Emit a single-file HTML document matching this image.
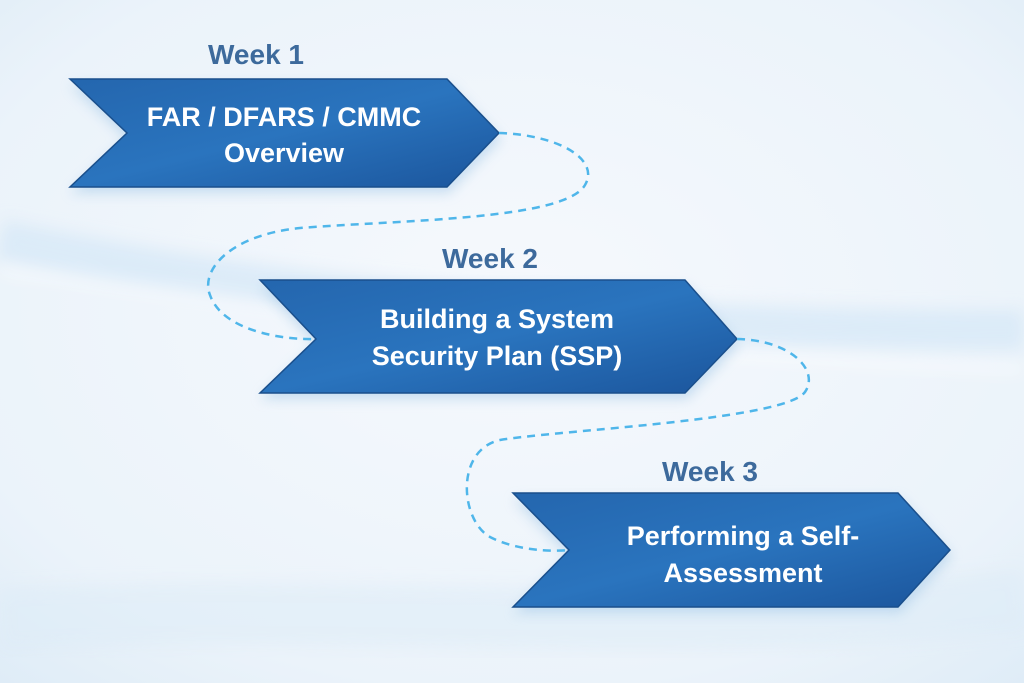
<!DOCTYPE html>
<html><head><style>
body{margin:0;width:1024px;height:683px;overflow:hidden;font-family:"Liberation Sans",sans-serif;}
</style></head><body>
<svg width="1024" height="683" viewBox="0 0 1024 683" xmlns="http://www.w3.org/2000/svg">
<defs>
<radialGradient id="bg" cx="0.5" cy="0.45" r="0.8">
<stop offset="0" stop-color="#f6f9fd"/><stop offset="0.7" stop-color="#ebf3fa"/><stop offset="1" stop-color="#dbeaf6"/>
</radialGradient>
<linearGradient id="ar" x1="0" y1="0" x2="1" y2="1">
<stop offset="0" stop-color="#2466ae"/><stop offset="0.5" stop-color="#2a74be"/><stop offset="1" stop-color="#1b559c"/>
</linearGradient>
<filter id="sh" x="-20%" y="-30%" width="140%" height="160%"><feGaussianBlur stdDeviation="6"/></filter>
<filter id="bl"><feGaussianBlur stdDeviation="8"/></filter>
</defs>
<rect width="1024" height="683" fill="url(#bg)"/>
<g filter="url(#bl)" fill="none">
<path d="M0 240 C200 280 500 330 1024 330" stroke="#d4e7f6" stroke-width="40" opacity="0.7"/>
<path d="M0 270 C250 300 500 350 1024 370" stroke="#ffffff" stroke-width="6" opacity="0.8"/>
<path d="M0 620 C300 600 700 640 1024 600" stroke="#dcebf7" stroke-width="60" opacity="0.5"/>
</g>
<g fill="#9cc4e6" opacity="0.5" filter="url(#sh)">
<polygon points="70,85 449,85 501,139 449,193 70,193 127,139"/>
<polygon points="260,286 687,286 739,345 687,399 260,399 316,345"/>
<polygon points="513,499 900,499 952,556 900,613 513,613 569,556"/>
</g>
<g fill="url(#ar)" stroke="#1a4f8c" stroke-width="1.5">
<polygon points="70,79 447,79 499,133 447,187 70,187 127,133"/>
<polygon points="260,280 685,280 737,339 685,393 260,393 316,339"/>
<polygon points="513,493 898,493 950,550 898,607 513,607 569,550"/>
</g>
<g stroke="#4fb6ea" stroke-width="2.5" stroke-dasharray="8 6" fill="none">
<path d="M499,133 C560,135 600,160 585,185 C565,220 400,220 300,228 C230,235 200,270 210,295 C222,330 280,340 316,339"/>
<path d="M737,339 C790,340 820,370 805,392 C785,420 560,430 500,440 C455,450 460,520 490,537 C515,550 550,552 569,550"/>
</g>
<g font-weight="bold" font-size="28" fill="#3d6a9c" text-anchor="middle">
<text x="256" y="64">Week 1</text>
<text x="490" y="268">Week 2</text>
<text x="710" y="481">Week 3</text>
</g>
<g font-weight="bold" font-size="27" fill="#ffffff" text-anchor="middle">
<text x="284" y="126">FAR / DFARS / CMMC</text>
<text x="284" y="162">Overview</text>
<text x="497" y="328">Building a System</text>
<text x="497" y="365">Security Plan (SSP)</text>
<text x="743" y="545">Performing a Self-</text>
<text x="743" y="582">Assessment</text>
</g>
</svg>
</body></html>
